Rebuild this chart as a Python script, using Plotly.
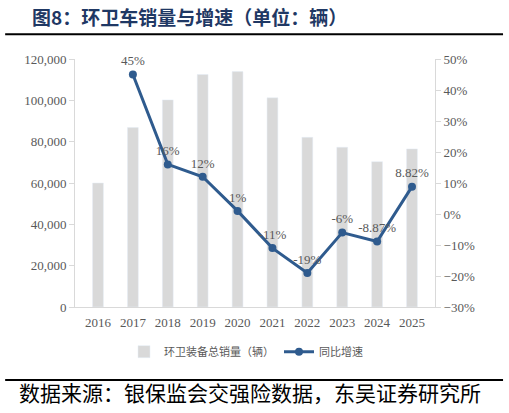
import plotly.graph_objects as go

# 数据
years = ['2016', '2017', '2018', '2019', '2020', '2021', '2022', '2023', '2024', '2025']
sales = [60000, 86800, 100200, 112500, 113900, 101200, 82100, 77300, 70300, 76500]
growth = [None, 45, 16, 12, 1, -11, -19, -6, -8.87, 8.82]
growth_labels = ['', '45%', '16%', '12%', '1%', '-11%', '-19%', '-6%', '-8.87%', '8.82%']

serif = 'Liberation Serif'
cjk = 'Noto Sans CJK SC'
tick_color = '#595959'

fig = go.Figure()

fig.add_trace(go.Bar(
    x=years, y=sales, name='环卫装备总销量（辆）',
    marker=dict(color='#d9d9d9'), width=0.31,
    yaxis='y'))

fig.add_trace(go.Scatter(
    x=years, y=growth, name='同比增速', yaxis='y2',
    mode='lines+markers+text',
    line=dict(color='#2f5b8e', width=3),
    marker=dict(size=8, color='#2f5b8e'),
    text=growth_labels, textposition='top center', cliponaxis=False,
    textfont=dict(family=serif, size=13, color=tick_color)))

fig.update_layout(
    width=509, height=413,
    margin=dict(l=75, r=74, t=59, b=106),
    plot_bgcolor='white', paper_bgcolor='white',
    title=dict(text='<b>图8：环卫车销量与增速（单位：辆）</b>',
               xref='container', yref='container', x=32 / 509, y=1 - 18 / 413,
               xanchor='left', yanchor='middle',
               font=dict(family=cjk, size=19, color='#1f3864')),
    showlegend=True,
    legend=dict(orientation='h', x=0.475, xanchor='center', y=-0.18, yanchor='middle',
                font=dict(family=cjk, size=11, color=tick_color)),
    xaxis=dict(showline=True, linecolor='#d9d9d9', linewidth=1,
               ticks='outside', ticklen=3, tickcolor='rgba(0,0,0,0)',
               tickfont=dict(family=serif, size=13, color=tick_color)),
    yaxis=dict(range=[0, 120000], dtick=20000, tickformat=',',
               showgrid=False, zeroline=False, showline=True, linecolor='#d9d9d9',
               ticks='outside', ticklen=5, tickcolor='#d9d9d9',
               tickfont=dict(family=serif, size=13, color=tick_color)),
    yaxis2=dict(range=[-30, 50], dtick=10, ticksuffix='%', overlaying='y', side='right',
                showgrid=False, zeroline=False, showline=True, linecolor='#d9d9d9',
                ticks='outside', ticklen=5, tickcolor='#d9d9d9',
                tickfont=dict(family=serif, size=13, color=tick_color)),
)

# 分割线、数据来源
fig.add_shape(type='line', xref='paper', yref='paper', x0=-0.194, x1=1.189, y0=1.1, y1=1.1,
              line=dict(color='black', width=2))
fig.add_shape(type='line', xref='paper', yref='paper', x0=-0.194, x1=1.189, y0=-0.294, y1=-0.294,
              line=dict(color='black', width=2))
fig.add_annotation(text='数据来源：银保监会交强险数据，东吴证券研究所', xref='paper', yref='paper',
                   x=-0.161, y=-0.343, xanchor='left', yanchor='middle', showarrow=False,
                   font=dict(family=cjk, size=21, color='black'))

# 去掉页面默认的 8px 边距，隐藏工具栏
fig.write_html("out.html", config={'displayModeBar': False},
               post_script="document.body.style.margin='0';")
